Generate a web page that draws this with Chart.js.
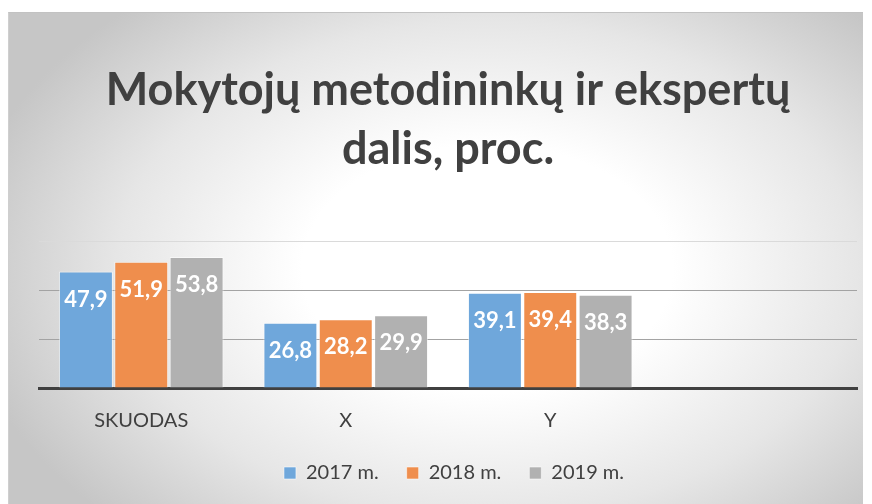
<!DOCTYPE html>
<html>
<head>
<meta charset="utf-8">
<script src="https://cdn.jsdelivr.net/npm/chart.js@4.4.0/dist/chart.umd.min.js"></script>
<style>
  html, body { margin: 0; padding: 0; background: #fff; overflow: hidden; }
  #wrap { position: relative; width: 872px; height: 504px; overflow: hidden; }
  #fonas {
    position: absolute; left: 8px; top: 12px; width: 854px; height: 492px;
    border-top: 1px solid #c2c2c2; border-left: 1px solid #cfcfcf;
    background: radial-gradient(ellipse 62% 72% at 56% 52%, #ffffff 0%, #ffffff 35%, #e6e6e6 70%, #c6c6c6 100%);
  }
  #grafikas { position: absolute; left: 0; top: 0; }
</style>
</head>
<body>
<div id="wrap">
  <div id="fonas"></div>
  <canvas id="grafikas" width="872" height="504"></canvas>
</div>
<script>
const kategorijos = ['SKUODAS', 'X', 'Y', ''];
const metai2017 = [47.9, 26.8, 39.1, null];
const metai2018 = [51.9, 28.2, 39.4, null];
const metai2019 = [53.8, 29.9, 38.3, null];
const serijos = ['2017 m.', '2018 m.', '2019 m.'];
const spalvos = ['#6fa7db', '#ef8e4d', '#b1b1b1'];
const yMin = 0, yMax = 60, yZingsnis = 20;

const tekstoSpalva = '#404040';

// reiksmiu uzrasai baltu sriftu stulpelio virsuje
const uzrasai = {
    id: 'uzrasai',
    afterLayout(chart) {
        // legenda siek tiek i desine, kaip originale
        chart.legend.left += 6;
        chart.legend.right += 6;
    },
    afterDatasetsDraw(chart) {
        const ctx = chart.ctx;
        ctx.save();
        ctx.font = 'bold 22px Lato';
        ctx.fillStyle = '#ffffff';
        ctx.textAlign = 'center';
        ctx.textBaseline = 'middle';
        chart.data.datasets.forEach(function (ds, i) {
            chart.getDatasetMeta(i).data.forEach(function (bar, j) {
                const v = ds.data[j];
                if (v == null) return;
                ctx.fillText(v.toFixed(1).replace('.', ','), bar.x, bar.y + 28);
            });
        });
        ctx.restore();
    }
};

const grafikas = document.getElementById('grafikas');

new Chart(grafikas, {
    type: 'bar',
    data: {
        labels: kategorijos,
        datasets: [metai2017, metai2018, metai2019].map(function (d, i) {
            return {
                label: serijos[i],
                data: d,
                backgroundColor: spalvos[i],
                borderColor: 'rgba(255,255,255,0.55)',
                borderWidth: 1,
                categoryPercentage: 0.812,
                barPercentage: 0.975
            };
        })
    },
    options: {
        responsive: false,
        animation: false,
        layout: { padding: { left: 39, right: 15, top: 0, bottom: 11 } },
        plugins: {
            title: {
                display: true,
                text: ['Mokytojų metodininkų ir ekspertų', 'dalis, proc.'],
                color: tekstoSpalva,
                font: { family: 'Lato', size: 45, weight: 'bold', lineHeight: 1.333 },
                padding: { top: 60, bottom: 62 }
            },
            legend: {
                position: 'bottom',
                labels: {
                    color: tekstoSpalva,
                    font: { family: 'Lato', size: 20 },
                    boxWidth: 12,
                    boxHeight: 12,
                    padding: 28
                }
            },
            tooltip: { enabled: false }
        },
        scales: {
            x: {
                grid: { display: false, drawTicks: false },
                border: { color: tekstoSpalva, width: 3 },
                ticks: { color: tekstoSpalva, font: { family: 'Lato', size: 20 }, padding: 21 },
                afterFit: function (s) { s.height = 47; }
            },
            y: {
                min: yMin,
                max: yMax,
                ticks: { display: false, stepSize: yZingsnis },
                border: { display: false },
                grid: {
                    drawTicks: false,
                    color: function (c) {
                        if (c.tick.value === yMax) return '#dadada';
                        if (c.tick.value === yMin) return 'rgba(0,0,0,0)';
                        return '#a3a3a3';
                    }
                }
            }
        }
    },
    plugins: [uzrasai]
});
</script>
</body>
</html>
